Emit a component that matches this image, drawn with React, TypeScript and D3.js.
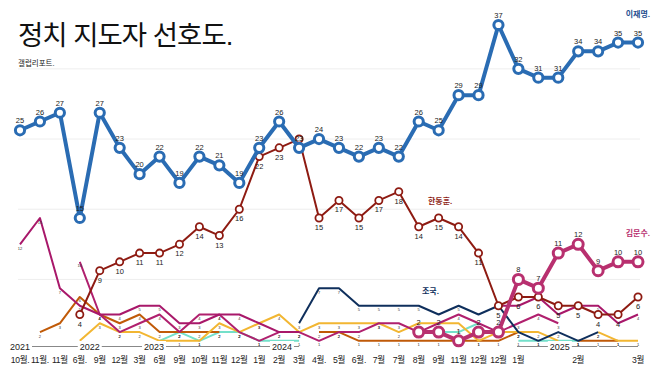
import React from 'react';
import * as d3 from 'd3';

// x positions: survey dates (labels shown under the axis)
const monthLabels = [
  '10월.', '11월.', '11월', '6월.', '9월', '12월', '3월', '6월', '9월', '10월',
  '11월', '12월', '1월', '2월', '3월', '4월.', '5월', '6월.', '7월', '7월',
  '8월', '9월', '11월', '12월', '12월', '1월', '', '', '2월', '', '', '3월',
];
const yearLabels = ['2021', '2022', '2023', '2024', '2025'];
const yearAt = [0, 3.5, 6.72, 13.14, 27.08];
const yearSpans = [[0, 14], [24.93, 28.95], [29.05, 29.95], [30.05, 31]];

const _ = null;
const leeJaeMyung = [25, 26, 27, 15, 27, 23, 20, 22, 19, 22, 21, 19, 23, 26, 23, 24, 23, 22, 23, 22, 26, 25, 29, 29, 37, 32, 31, 31, 34, 34, 35, 35];
const hanDongHoon = [_, _, _, 4, 9, 10, 11, 11, 12, 14, 13, 16, 22, 23, 24, 15, 17, 15, 17, 18, 14, 15, 14, 11, 5, 6, 6, 5, 5, 4, 4, 6];
const kimMoonSoo = [_, _, _, _, _, _, _, _, _, _, _, _, _, _, _, _, _, _, _, _, 2, 2, 1, 2, 2, 8, 7, 11, 12, 9, 10, 10];
const choKuk = [_, _, _, _, _, _, _, _, _, _, _, _, _, _, 3, 7, 7, 5, 5, 5, 5, 4, 5, 4, 5, 2, 1, 2, 1, 2, _, _];
const magentaA = [12, 15, 7, 5, 4, 4, 5, 5, 3, 3, 4, 4, 3, 2, 2, _, _, _, _, _, _, _, _, _, 5, 5, 6, 4, 5, 5, 3, 4];
const magentaB = [_, _, _, 10, 4, 2, 3, 4, 2, 4, 4, 2, 1, 2, 2, 1, 2, 2, 3, 3, 2, 3, 4, 3, 2, 3, 4, 3, _, _, _, _];
const orangeS = [_, 2, 3, 6, 4, 3, 4, 2, 2, 2, 2, _, _, _, _, 2, 2, 1, 1, 1, 1, 1, 1, 1, 1, 2, _, _, 1, 1, 1, _];
const yellowS = [_, _, _, 1, 3, 2, 2, 1, 1, 1, 3, 2, 3, 4, 2, 3, 3, 3, 3, 2, 3, 3, 3, 1, 2, 2, 2, 1, _, 2, 1, 1];
const tealS = [_, _, _, _, _, _, _, 1, 2, 1, 2, 2, 1, 1, 1, _, _, _, _, _, _, 2, 2, 3, _, 1, 1, 1, 1, _, _, _];

const gridValues = [8, 16, 24, 32];

const FONT = "'Liberation Sans', 'Noto Sans CJK KR', sans-serif";

type Series = (number | null)[];

const x = d3.scaleLinear().domain([0, 31]).range([20, 638]);
const y = d3.scaleLinear().domain([0, 37]).range([349.6, 25]);

const lineGen = d3.line<number | null>()
  .defined(d => d !== null)
  .x((_d, i) => x(i))
  .y(d => y(d as number));

// where the bigger value labels sit, so tiny ones hidden under them are skipped
const bigLabelY = (i: number) => {
  const out: number[] = [];
  if (hanDongHoon[i] !== null) out.push(y(hanDongHoon[i] as number) + 12);
  if (kimMoonSoo[i] !== null) out.push(y(kimMoonSoo[i] as number) - 7);
  return out;
};

const hidden = (i: number, v: number) => {
  const ty = y(v) + 5.5;
  if (ty > 341 && yearAt.some(a => Math.abs(x(a) - x(i)) < 15)) return true;
  return bigLabelY(i).some(by => Math.abs(by - ty) < 8);
};

const Thin = ({ data, color }: { data: Series; color: string }) => (
  <g>
    <path d={lineGen(data) || ''} fill="none" stroke={color} strokeWidth={2} strokeLinejoin="round" />
    {data.map((v, i) => v === null || hidden(i, v) ? null : (
      <text key={i} x={x(i)} y={y(v) + 5.5} fontSize={4} textAnchor="middle" fill="#333">{v}</text>
    ))}
  </g>
);

const Marked = ({ data, color, width, r, sw, labelBelow }: {
  data: Series; color: string; width: number; r: number; sw: number; labelBelow: boolean;
}) => (
  <g>
    <path d={lineGen(data) || ''} fill="none" stroke={color} strokeWidth={width} strokeLinejoin="round" />
    {data.map((v, i) => v === null ? null : (
      <circle key={'c' + i} cx={x(i)} cy={y(v)} r={r} fill="#fff" stroke={color} strokeWidth={sw} />
    ))}
    {data.map((v, i) => v === null ? null : (
      <text key={'t' + i} x={x(i)} y={labelBelow ? y(v) + 12 : y(v) - 7} fontSize={7.5}
        textAnchor="middle" fill="#222">{v}</text>
    ))}
  </g>
);

export default function App() {
  return (
    <svg width={658} height={370} style={{ position: 'absolute', left: 0, top: 0, background: '#fff' }}
      fontFamily={FONT}>
      <text x={18} y={45} fontSize={27.5} letterSpacing={-1} fill="#111">정치 지도자 선호도.</text>
      <text x={18} y={66} fontSize={7.5} fill="#222">갤럽리포트.</text>

      {gridValues.map(g => (
        <line key={g} x1={18} x2={640} y1={y(g)} y2={y(g)} stroke="#eeeeee" strokeWidth={1} />
      ))}

      <Thin data={tealS} color="#74e0ca" />
      <Thin data={orangeS} color="#c05a08" />
      <Thin data={yellowS} color="#f2b632" />
      <Thin data={magentaB} color="#b0206e" />
      <Thin data={magentaA} color="#a8186a" />
      <Thin data={choKuk} color="#0f2f5c" />

      <Marked data={hanDongHoon} color="#8e1b12" width={2} r={3.6} sw={1.8} labelBelow={true} />
      <Marked data={kimMoonSoo} color="#b8306f" width={4} r={5} sw={3} labelBelow={false} />
      <Marked data={leeJaeMyung} color="#2a6cb3" width={4} r={4.6} sw={3} labelBelow={false} />

      <text x={650} y={17} fontSize={8} fontWeight="bold" textAnchor="end" fill="#1f4f8f">이재명.</text>
      <text x={428} y={204} fontSize={8} fontWeight="bold" fill="#8e1b12">한동훈.</text>
      <text x={650} y={236} fontSize={8} fontWeight="bold" textAnchor="end" fill="#b8306f">김문수.</text>
      <text x={422} y={294} fontSize={8} fontWeight="bold" fill="#0f2f5c">조국.</text>

      {yearSpans.map((s, i) => (
        <line key={i} x1={x(s[0])} x2={x(s[1])} y1={346.5} y2={346.5} stroke="#888" strokeWidth={1} />
      ))}
      {yearLabels.map((lab, i) => (
        <g key={lab}>
          <rect x={x(yearAt[i]) - 12} y={341} width={24} height={10} fill="#fff" />
          <text x={x(yearAt[i])} y={349.5} fontSize={9} textAnchor="middle" fill="#222">{lab}</text>
        </g>
      ))}
      {monthLabels.map((m, i) => m === '' ? null : (
        <text key={i} x={x(i)} y={363} fontSize={8.6} letterSpacing={-0.3} textAnchor="middle" fill="#222">{m}</text>
      ))}
    </svg>
  );
}
